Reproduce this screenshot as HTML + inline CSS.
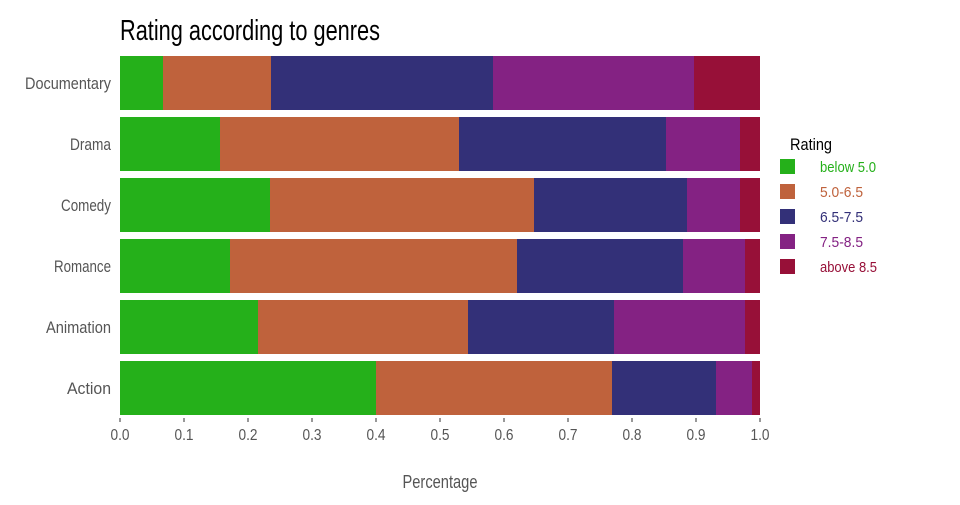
<!DOCTYPE html>
<html><head><meta charset="utf-8"><style>
body{margin:0;background:#fff;width:960px;height:500px;overflow:hidden}
text{font-family:"Liberation Sans",sans-serif}
</style></head><body>
<svg width="960" height="500" xmlns="http://www.w3.org/2000/svg">
<text x="120" y="40" font-size="29" fill="#000" textLength="260" lengthAdjust="spacingAndGlyphs">Rating according to genres</text>
<g id="bars"></g>
<g font-size="17" fill="#555" text-anchor="end">
<text x="111" y="89" textLength="86" lengthAdjust="spacingAndGlyphs">Documentary</text>
<text x="111" y="150" textLength="41" lengthAdjust="spacingAndGlyphs">Drama</text>
<text x="111" y="211" textLength="50" lengthAdjust="spacingAndGlyphs">Comedy</text>
<text x="111" y="272" textLength="57" lengthAdjust="spacingAndGlyphs">Romance</text>
<text x="111" y="333" textLength="65" lengthAdjust="spacingAndGlyphs">Animation</text>
<text x="111" y="394" textLength="44" lengthAdjust="spacingAndGlyphs">Action</text>
</g>
<g stroke="#333" stroke-width="1">
<line x1="120" y1="418" x2="120" y2="422"/><line x1="184" y1="418" x2="184" y2="422"/><line x1="248" y1="418" x2="248" y2="422"/><line x1="312" y1="418" x2="312" y2="422"/><line x1="376" y1="418" x2="376" y2="422"/><line x1="440" y1="418" x2="440" y2="422"/><line x1="504" y1="418" x2="504" y2="422"/><line x1="568" y1="418" x2="568" y2="422"/><line x1="632" y1="418" x2="632" y2="422"/><line x1="696" y1="418" x2="696" y2="422"/><line x1="760" y1="418" x2="760" y2="422"/>
</g>
<g font-size="16" fill="#555" text-anchor="middle" id="ticks"></g>
<text x="440" y="488" font-size="18" fill="#555" text-anchor="middle" textLength="75" lengthAdjust="spacingAndGlyphs">Percentage</text>
<text x="790" y="150" font-size="17" fill="#000" textLength="42" lengthAdjust="spacingAndGlyphs">Rating</text>
<g font-size="15">
<rect x="780" y="159" width="15" height="15" fill="#25b01a"/><text x="820" y="172" fill="#25b01a" textLength="56" lengthAdjust="spacingAndGlyphs">below 5.0</text>
<rect x="780" y="184" width="15" height="15" fill="#bf623c"/><text x="820" y="197" fill="#bf623c" textLength="43" lengthAdjust="spacingAndGlyphs">5.0-6.5</text>
<rect x="780" y="209" width="15" height="15" fill="#333078"/><text x="820" y="222" fill="#333078" textLength="43" lengthAdjust="spacingAndGlyphs">6.5-7.5</text>
<rect x="780" y="234" width="15" height="15" fill="#842283"/><text x="820" y="247" fill="#842283" textLength="43" lengthAdjust="spacingAndGlyphs">7.5-8.5</text>
<rect x="780" y="259" width="15" height="15" fill="#971038"/><text x="820" y="272" fill="#971038" textLength="57" lengthAdjust="spacingAndGlyphs">above 8.5</text>
</g>
</svg>
<script>
var C=["#25b01a","#bf623c","#333078","#842283","#971038"];
var rows=[[163,271,493,694,760],[220,459,666,740,760],[270,534,687,740,760],[230,517,683,745,760],[258,468,614,745,760],[376,612,716,752,760]];
var g=document.getElementById("bars"),s="";
rows.forEach(function(r,i){var y=56+i*61,x=120;r.forEach(function(e,j){s+='<rect x="'+x+'" y="'+y+'" width="'+(e-x)+'" height="54" fill="'+C[j]+'"/>';x=e;});});
g.innerHTML=s;
var t="";for(var k=0;k<=10;k++){t+='<text x="'+(120+64*k)+'" y="440" textLength="19" lengthAdjust="spacingAndGlyphs">'+(k/10).toFixed(1)+'</text>';}
document.getElementById("ticks").innerHTML=t;
</script>
</body></html>
